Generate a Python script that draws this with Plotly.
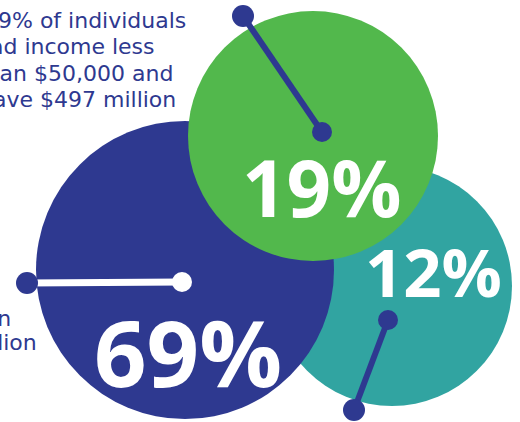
import plotly.graph_objects as go

# Share of total giving by income group
groups = ["higher income", "income under $50,000", "other"]
shares = [69, 19, 12]
share_labels = [f"{s}%" for s in shares]

# Callout text blocks
callout_top = ["19% of individuals", "had income less", "than $50,000 and", "gave $497 million"]
callout_left = ["69% of individuals", "with income more than", "$50,000 gave $1.1 billion"]

# ---- layout (pixel space, y grows downward) ----
W, H = 520, 422
NAVY = "#2e3990"
GREEN = "#52b84c"
TEAL = "#31a4a1"
TEXT_FONT = "DejaVu Sans"

bubble = {
    "higher income": dict(cx=185, cy=270, r=149, color=NAVY,
                          label=(188, 351, 92)),
    "income under $50,000": dict(cx=313, cy=136, r=125, color=GREEN,
                                 label=(321, 187, 78)),
    "other": dict(cx=392, cy=286, r=120, color=TEAL,
                  label=(433, 271, 67)),
}
draw_order = ["other", "higher income", "income under $50,000"]

# leader lines: (start, end, line color, start-dot color, end-dot color)
leaders = {
    "higher income": ((182, 282), (27, 283), "white", "white", NAVY),
    "income under $50,000": ((322, 132), (243, 16), NAVY, NAVY, NAVY),
    "other": ((388, 320), (354, 410), NAVY, NAVY, NAVY),
}

fig = go.Figure()

shapes = []
for g in draw_order:
    b = bubble[g]
    shapes.append(dict(type="circle", xref="x", yref="y",
                       x0=b["cx"] - b["r"], x1=b["cx"] + b["r"],
                       y0=b["cy"] - b["r"], y1=b["cy"] + b["r"],
                       fillcolor=b["color"], line=dict(width=0), layer="below"))

for g in groups:
    (x0, y0), (x1, y1), lc, c0, c1 = leaders[g]
    fig.add_trace(go.Scatter(x=[x0, x1], y=[y0, y1], mode="lines",
                             line=dict(color=lc, width=7 if lc == "white" else 6),
                             hoverinfo="skip", showlegend=False))
    fig.add_trace(go.Scatter(x=[x0, x1], y=[y0, y1], mode="markers",
                             marker=dict(color=[c0, c1], size=[20, 22], opacity=1,
                                         line=dict(width=0)),
                             hoverinfo="skip", showlegend=False))

annotations = []
for g, lab in zip(groups, share_labels):
    lx, ly, fs = bubble[g]["label"]
    annotations.append(dict(x=lx, y=ly, xref="x", yref="y", text=lab, showarrow=False,
                            xanchor="center", yanchor="middle",
                            font=dict(family="Open Sans", size=fs, color="white", weight=700)))

# top callout: lines run off the left edge, so each is placed by where it ends
top_ends = [188, 157, 175, 178]
top_mid = [20, 46.5, 73, 99]
for line, xe, ym in zip(callout_top, top_ends, top_mid):
    annotations.append(dict(x=xe, y=ym, xref="x", yref="y", text=line,
                            showarrow=False, xanchor="right", yanchor="middle",
                            font=dict(family=TEXT_FONT, size=22, color=NAVY)))

left_ends = [-45, 13, 39]
left_mid = [294, 318, 342]
for line, xe, ym in zip(callout_left, left_ends, left_mid):
    annotations.append(dict(x=xe, y=ym, xref="x", yref="y", text=line,
                            showarrow=False, xanchor="right", yanchor="middle",
                            font=dict(family=TEXT_FONT, size=22, color=NAVY)))

fig.update_layout(
    width=W, height=H,
    margin=dict(l=0, r=0, t=0, b=0),
    paper_bgcolor="white", plot_bgcolor="white",
    xaxis=dict(range=[0, W], visible=False, fixedrange=True),
    yaxis=dict(range=[H, 0], visible=False, fixedrange=True),
    shapes=shapes, annotations=annotations, showlegend=False,
)

fig.write_html("out.html", config={"displayModeBar": False})
